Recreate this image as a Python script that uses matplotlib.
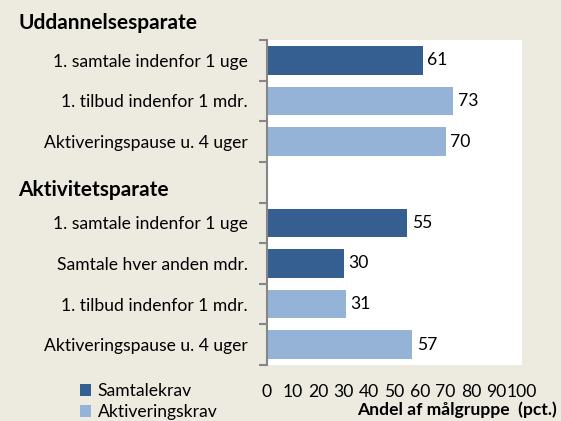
import matplotlib
matplotlib.use("Agg")
import matplotlib.pyplot as plt
from matplotlib.patches import Patch
import numpy as np

plt.rcParams['font.family'] = ['Lato', 'DejaVu Sans']

group1 = "Uddannelsesparate"
group2 = "Aktivitetsparate"
labels1 = ["1. samtale indenfor 1 uge", "1. tilbud indenfor 1 mdr.", "Aktiveringspause u. 4 uger"]
values1 = [61, 73, 70]
types1 = ["Samtalekrav", "Aktiveringskrav", "Aktiveringskrav"]
labels2 = ["1. samtale indenfor 1 uge", "Samtale hver anden mdr.", "1. tilbud indenfor 1 mdr.", "Aktiveringspause u. 4 uger"]
values2 = [55, 30, 31, 57]
types2 = ["Samtalekrav", "Samtalekrav", "Aktiveringskrav", "Aktiveringskrav"]
xticks = [0, 10, 20, 30, 40, 50, 60, 70, 80, 90, 100]
xlabel = "Andel af målgruppe  (pct.)"

colors = {"Samtalekrav": "#365F91", "Aktiveringskrav": "#95B3D7"}
bg = "#EDEAE0"
fs = 12.6

fig = plt.figure(figsize=(5.61, 4.21), dpi=100)
fig.patch.set_facecolor(bg)
ax = fig.add_axes([267/561, (421-365)/421, (522-267)/561, (365-40)/421])
ax.set_facecolor("white")

pos1 = [0, 1, 2]
pos2 = [4, 5, 6, 7]
labels = labels1 + labels2
values = values1 + values2
types = types1 + types2
pos = pos1 + pos2

ax.barh(pos, values, height=0.7, color=[colors[t] for t in types])
for p, v in zip(pos, values):
    ax.text(v + 1.8, p, str(v), va='center', ha='left', fontsize=fs, color='black')

ax.set_xlim(0, 100)
ax.set_ylim(7.5, -0.5)
ax.set_yticks(pos)
ax.set_yticklabels(labels, fontsize=fs)
ax.set_yticks(np.arange(-0.5, 8.0, 1.0), minor=True)
ax.tick_params(axis='y', which='major', length=0, pad=14)
ax.tick_params(axis='y', which='minor', length=6, color='#868686', width=1.5)
ax.set_xticks(xticks)
ax.set_xticklabels([str(x) for x in xticks], fontsize=fs)
ax.tick_params(axis='x', length=0, pad=14)
for s in ['top', 'right', 'bottom']:
    ax.spines[s].set_visible(False)
ax.spines['left'].set_color('#868686')
ax.spines['left'].set_linewidth(1.5)

fig.text(18/561, 1 - 23/421, group1, fontsize=15, fontweight='bold', va='center', ha='left')
t2 = ax.text(-(267 - 18) / 255 * 100, 3.2, group2, fontsize=15, fontweight='bold',
             va='center', ha='left')
t2.set_clip_on(False)

fig.text(557/561, 1 - 410/421, xlabel, fontsize=fs, fontweight='bold', ha='right', va='center')

handles = [Patch(facecolor=colors[k], label=k) for k in ["Samtalekrav", "Aktiveringskrav"]]
fig.legend(handles=handles, loc='upper left', bbox_to_anchor=(80/561, 1 - 383/421), frameon=False,
           fontsize=fs, handlelength=0.65, handleheight=0.65, handletextpad=0.35, labelspacing=0.3,
           borderaxespad=0, borderpad=0)

fig.savefig("out.png", dpi=100, facecolor=bg)
